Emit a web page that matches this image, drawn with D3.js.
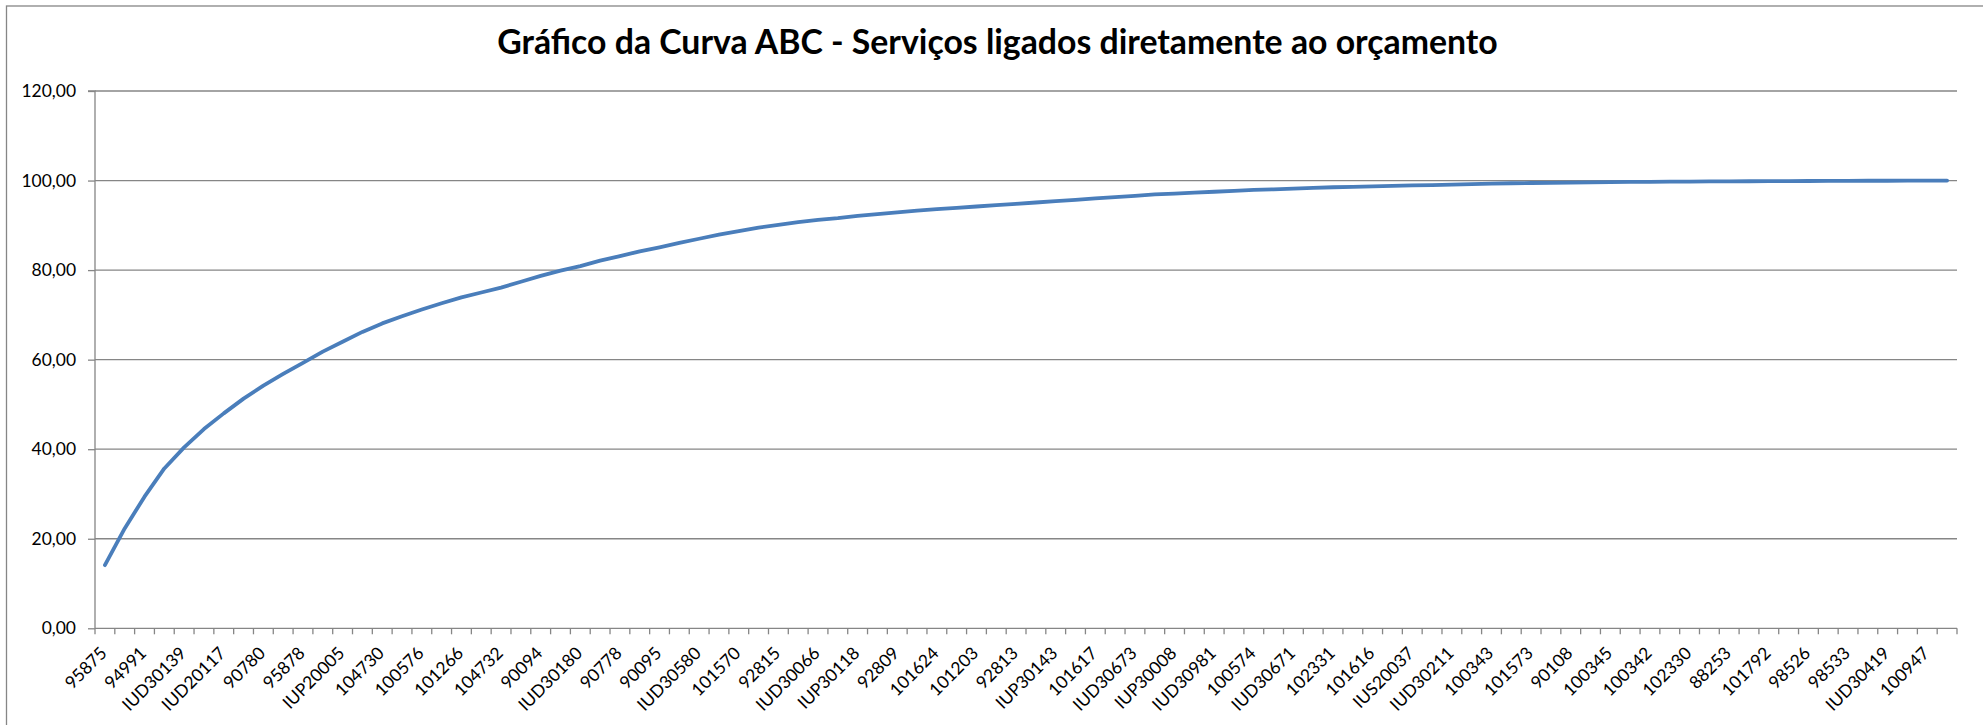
<!DOCTYPE html>
<html>
<head>
<meta charset="utf-8">
<script src="https://cdn.jsdelivr.net/npm/d3@7"></script>
<style>
  html, body { margin: 0; padding: 0; background: #fff; }
  svg { display: block; }
</style>
</head>
<body>
<svg id="chart" width="1983" height="725"></svg>
<script>
const title = "Gráfico da Curva ABC - Serviços ligados diretamente ao orçamento";

// labels shown on every second category (odd categories are unlabeled in the picture)
const labels = ["95875","94991","IUD30139","IUD20117","90780","95878","IUP20005","104730",
  "100576","101266","104732","90094","IUD30180","90778","90095","IUD30580","101570","92815",
  "IUD30066","IUP30118","92809","101624","101203","92813","IUP30143","101617","IUD30673",
  "IUP30008","IUD30981","100574","IUD30671","102331","101616","IUS20037","IUD30211","100343",
  "101573","90108","100345","100342","102330","88253","101792","98526","98533","IUD30419","100947"];

// cumulative percentage per category (94 categories)
const values = [14.1,22.3,29.4,35.7,40.4,44.5,48.0,51.3,54.2,56.8,
  59.3,61.8,64.0,66.2,68.1,69.7,71.2,72.6,73.9,75.0,
  76.1,77.4,78.7,79.9,80.9,82.1,83.1,84.2,85.1,86.1,
  87.0,87.9,88.7,89.5,90.1,90.7,91.2,91.6,92.1,92.5,
  92.9,93.3,93.6,93.9,94.2,94.5,94.8,95.1,95.4,95.7,
  96.0,96.3,96.6,96.9,97.1,97.3,97.5,97.7,97.9,98.05,
  98.2,98.35,98.5,98.6,98.7,98.8,98.9,99.0,99.1,99.2,
  99.3,99.4,99.45,99.5,99.55,99.6,99.65,99.7,99.72,99.75,
  99.78,99.8,99.82,99.84,99.86,99.88,99.9,99.92,99.94,99.95,
  99.96,99.97,99.99,100.0];

const yTicks = [0,20,40,60,80,100,120];

const svg = d3.select("#chart");
const L = 95, R = 1957, T = 91, B = 628.3;
const gridColor = "#868686";
const fontFam = "Lato, 'Open Sans', sans-serif";

// fit a font size so a sample string gets a target width
function fitSize(str, target, weight) {
  const t = svg.append("text").attr("font-family", fontFam).attr("font-size", 20)
    .attr("font-weight", weight || "normal").text(str);
  const w = t.node().getComputedTextLength();
  t.remove();
  return 20 * target / w;
}
const tickSize = fitSize("120,00", 54.6);
const titleSize = fitSize(title, 1001, "bold");

// outer border
svg.append("rect").attr("x", 6.5).attr("y", 6).attr("width", 2100).attr("height", 1000)
  .attr("fill", "none").attr("stroke", gridColor).attr("stroke-width", 1.3);

const idx = d3.range(values.length);
const x = d3.scaleBand().domain(idx).range([L, R]).padding(0);
const y = d3.scaleLinear().domain([0, 120]).range([B, T]);

const loc = d3.formatLocale({decimal: ",", thousands: ".", grouping: [3], currency: ["", ""]});
const fmt = loc.format(".2f");

// gridlines
svg.append("g").selectAll("line").data(yTicks.filter(d => d > 0)).join("line")
  .attr("x1", L).attr("x2", R).attr("y1", d => y(d)).attr("y2", d => y(d))
  .attr("stroke", gridColor).attr("stroke-width", 1.3);

// y axis
const yAxis = svg.append("g").attr("transform", `translate(${L},0)`)
  .call(d3.axisLeft(y).tickValues(yTicks).tickFormat(fmt).tickSize(7).tickPadding(12));
yAxis.selectAll("path, line").attr("stroke", gridColor).attr("stroke-width", 1.3);
yAxis.select(".domain").attr("d", `M-7,${T}H0V${B}`);
yAxis.selectAll("text").attr("font-family", fontFam).attr("font-size", tickSize).attr("fill", "#000");

// x axis line + boundary ticks
const xg = svg.append("g");
xg.append("line").attr("x1", L).attr("x2", R).attr("y1", B).attr("y2", B)
  .attr("stroke", gridColor).attr("stroke-width", 1.3);
const bounds = idx.map(i => x(i)).concat([x(idx[idx.length - 1]) + x.bandwidth()]);
xg.selectAll("line.tk").data(bounds).join("line").attr("class", "tk")
  .attr("x1", d => d).attr("x2", d => d).attr("y1", B).attr("y2", B + 6)
  .attr("stroke", gridColor).attr("stroke-width", 1.3);

// category labels
xg.selectAll("text").data(labels).join("text")
  .attr("transform", (d, k) => {
    const cx = x(k * 2) + x.bandwidth() / 2 + 3;
    return `translate(${cx},${B + 26}) rotate(-45)`;
  })
  .attr("text-anchor", "end")
  .attr("font-family", fontFam).attr("font-size", tickSize).attr("fill", "#000")
  .text(d => d);

// line
const line = d3.line().x((d, i) => x(i) + x.bandwidth() / 2).y(d => y(d));
svg.append("path").datum(values).attr("d", line)
  .attr("fill", "none").attr("stroke", "#4A7EBB").attr("stroke-width", 3.8)
  .attr("stroke-linejoin", "round").attr("stroke-linecap", "round");

// title
svg.append("text").attr("x", 997.5).attr("y", 54.3).attr("text-anchor", "middle")
  .attr("font-family", fontFam).attr("font-weight", "bold").attr("font-size", titleSize)
  .attr("fill", "#000").text(title);
</script>
</body>
</html>
